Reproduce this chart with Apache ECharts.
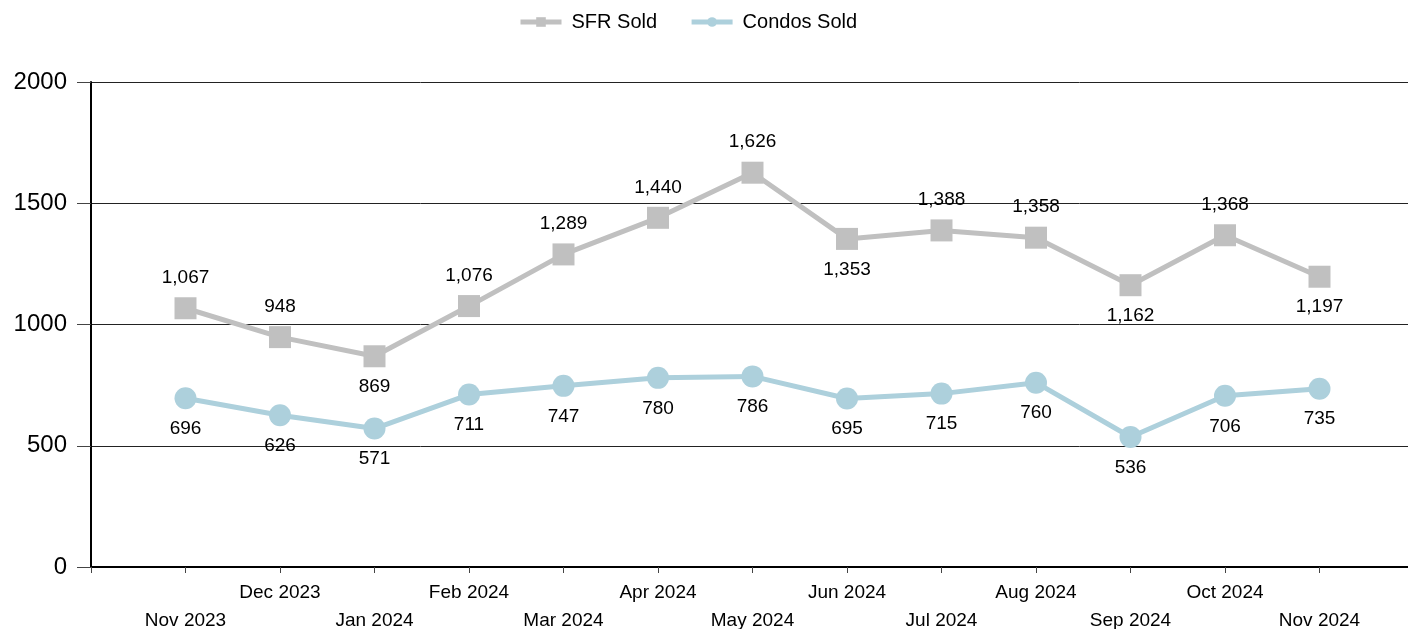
<!DOCTYPE html>
<html>
<head>
<meta charset="utf-8">
<script src="https://cdn.jsdelivr.net/npm/echarts@6/dist/echarts.min.js"></script>
<style>
  html, body { margin: 0; padding: 0; background: #fff; }
  #chart { width: 1408px; height: 629px; }
</style>
</head>
<body>
<div id="chart"></div>
<script>
// months, padded with an empty slot on each side so the points sit on ticks
const months = ['', 'Nov 2023', 'Dec 2023', 'Jan 2024', 'Feb 2024', 'Mar 2024', 'Apr 2024',
  'May 2024', 'Jun 2024', 'Jul 2024', 'Aug 2024', 'Sep 2024', 'Oct 2024', 'Nov 2024', '']
const sfrSold = [null, 1067, 948, 869, 1076, 1289, 1440, 1626, 1353, 1388, 1358, 1162, 1368, 1197, null]
const condosSold = [null, 696, 626, 571, 711, 747, 780, 786, 695, 715, 760, 536, 706, 735, null]
const yTicks = [0, 500, 1000, 1500, 2000]

// SFR labels that sit under the point instead of above
const sfrBelow = [3, 8, 11, 13]

const fmt = v => Number(v).toLocaleString('en-US')
const font = '"Liberation Sans", Arial, sans-serif'

const chart = echarts.init(document.getElementById('chart'))
chart.setOption({
  animation: false,
  textStyle: { fontFamily: font },
  legend: {
    top: 7,
    left: 513,
    itemWidth: 41,
    itemHeight: 12,
    itemGap: 32,
    lineStyle: { width: 5 },
    textStyle: { fontSize: 20, color: '#000', fontFamily: font, padding: [0, 0, 0, 5] },
    data: ['SFR Sold', 'Condos Sold']
  },
  grid: { left: 91, top: 82, bottom: 62, right: -6, containLabel: false, outerBoundsMode: 'none' },
  xAxis: {
    type: 'category',
    boundaryGap: false,
    data: months,
    axisLine: { lineStyle: { color: '#000', width: 2 } },
    axisTick: { show: true, length: 6, interval: 0, lineStyle: { color: '#444', width: 1 } },
    axisLabel: {
      interval: 0,
      fontSize: 19,
      color: '#000',
      margin: 12,
      lineHeight: 28,
      formatter: (val, idx) => (idx % 2 === 1 ? '\n' + val : val)
    },
    splitLine: { show: false }
  },
  yAxis: {
    type: 'value',
    min: yTicks[0],
    max: yTicks[yTicks.length - 1],
    interval: 500,
    axisLine: { show: true, lineStyle: { color: '#000', width: 2 } },
    axisTick: { show: true, length: 14, lineStyle: { color: '#444', width: 1 } },
    axisLabel: { fontSize: 24, color: '#000', margin: 24, formatter: v => String(v) },
    splitLine: { lineStyle: { color: '#222', width: 1 } }
  },
  series: [
    {
      name: 'SFR Sold',
      type: 'line',
      data: sfrSold.map((v, i) => ({
        value: v,
        label: { position: sfrBelow.includes(i) ? 'bottom' : 'top' }
      })),
      symbol: 'rect',
      symbolSize: 22,
      lineStyle: { color: '#c0c0c0', width: 5 },
      itemStyle: { color: '#c0c0c0' },
      label: {
        show: true,
        distance: 10,
        fontSize: 19,
        color: '#000',
        formatter: p => fmt(p.value)
      },
      z: 3
    },
    {
      name: 'Condos Sold',
      type: 'line',
      data: condosSold,
      symbol: 'circle',
      symbolSize: 22,
      lineStyle: { color: '#add0dc', width: 5 },
      itemStyle: { color: '#add0dc' },
      label: {
        show: true,
        position: 'bottom',
        distance: 10,
        fontSize: 19,
        color: '#000',
        formatter: p => fmt(p.value)
      },
      z: 3
    }
  ]
})
</script>
</body>
</html>
